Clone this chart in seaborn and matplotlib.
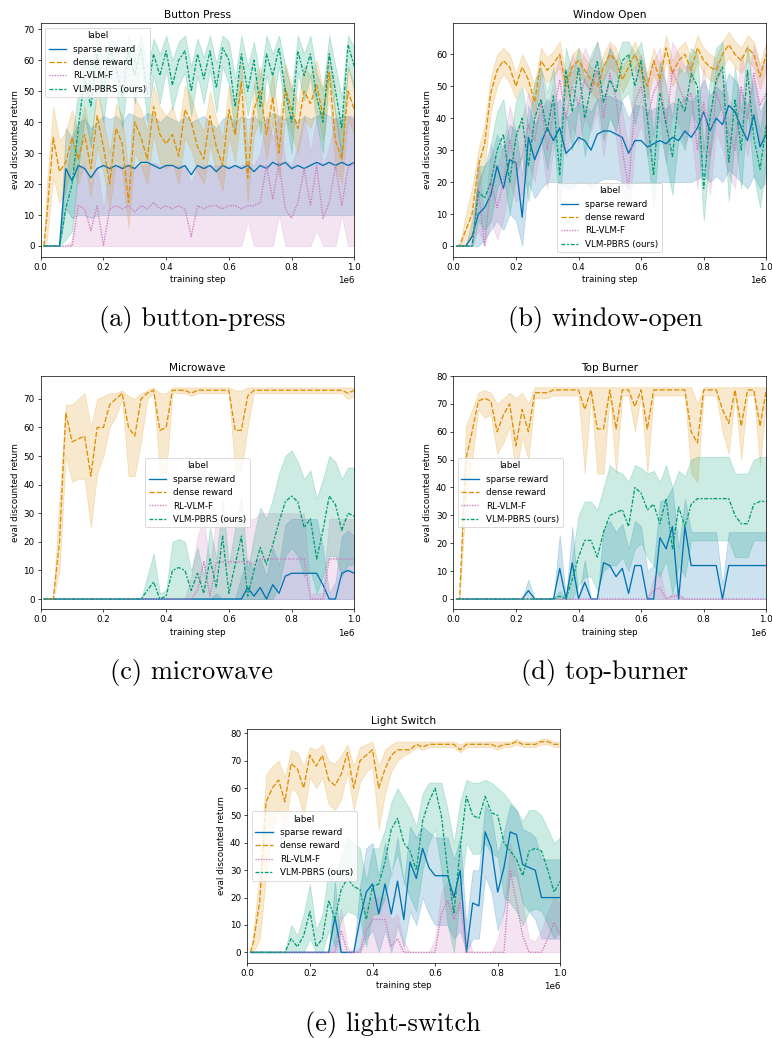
import matplotlib
matplotlib.use("Agg")
import matplotlib.pyplot as plt
import numpy as np
import pandas as pd
import seaborn as sns

# ---------------- data ----------------
# evaluation steps: 0.01e6, then every 0.02e6 up to 1e6
steps = [10000] + [20000 * k for k in range(1, 51)]
labels = ["sparse reward", "dense reward", "RL-VLM-F", "VLM-PBRS (ours)"]
palette = {"sparse reward": "#0173b2", "dense reward": "#de8f05",
           "RL-VLM-F": "#cc78bc", "VLM-PBRS (ours)": "#029e73"}

# ---- Button Press ----
bp_sparse = [0, 0,0,0,25,21,26,25,22,25,26, 25,26,25,26,25,27,27,26,25,26, 26,25,26,23,26,25,26,24,26,25, 26,25,26,24,26,25,27,26,27,25, 26,25,26,27,26,27,26,27,26,27]
bp_sparse_lo = [0, 0,0,0,12,9,10,10,9,10,10, 10,10,10,10,10,10,10,10,10,10, 10,10,10,10,10,10,10,10,10,10, 10,10,10,10,10,10,10,10,10,10, 10,10,10,10,10,10,10,10,10,10]
bp_sparse_hi = [0, 0,0,0,38,35,40,41,38,40,42, 41,42,40,43,42,41,43,42,40,42, 41,40,42,40,41,42,40,38,41,42, 40,42,41,42,40,41,43,42,41,42, 40,42,41,42,43,42,41,42,42,41]
bp_dense = [0, 10,35,24,27,35,28,36,25,42,32, 20,38,33,14,40,35,28,45,36,33, 36,29,44,40,32,28,42,32,26,44, 36,53,22,44,50,36,48,30,51,44, 38,50,46,52,42,56,34,28,50,44]
bp_dense_lo = [0, 2,22,14,18,26,20,27,16,32,24, 12,28,24,6,30,26,20,36,27,25, 27,20,35,31,24,20,33,24,18,35, 27,44,14,36,41,28,40,22,42,36, 30,41,38,44,34,48,26,20,41,36]
bp_dense_hi = [0, 20,45,34,37,44,37,45,34,50,41, 30,46,42,24,48,44,37,52,45,42, 45,38,52,48,41,37,50,41,35,52, 45,60,31,52,58,45,56,39,59,52, 46,58,55,60,51,63,43,37,58,52]
bp_rl = [0, 0,0,0,0,0,13,12,5,13,0, 12,13,12,13,11,13,12,14,12,13, 12,13,12,3,13,12,13,13,12,13, 13,12,13,13,14,26,15,27,12,9, 14,25,13,26,9,14,26,13,25,27]
bp_rl_lo = [0, 0,0,0,0,0,0,0,0,0,0, 0,0,0,0,0,0,0,0,0,0, 0,0,0,0,0,0,0,0,0,0, 0,0,8,0,0,0,0,10,0,0, 0,0,0,5,0,0,0,10,0,0]
bp_rl_hi = [0, 0,0,0,0,2,26,26,20,26,12, 26,26,26,26,25,26,26,27,26,26, 26,26,26,20,26,26,26,26,26,26, 26,26,27,26,30,42,35,42,28,26, 32,42,30,42,26,32,42,30,42,42]
bp_vlm = [0, 0,0,0,12,20,38,55,45,62,50, 64,58,48,63,55,64,49,62,55,63, 52,60,63,50,62,54,63,51,64,60, 45,62,50,60,45,62,55,64,50,40, 63,55,62,48,40,62,50,38,65,58]
bp_vlm_lo = [0, 0,0,0,2,5,25,42,32,52,40, 56,50,38,56,46,58,40,55,46,57, 44,52,56,42,55,46,57,43,58,52, 36,55,42,52,36,55,46,58,42,30, 56,47,55,40,30,55,42,28,58,50]
bp_vlm_hi = [0, 0,0,0,22,35,50,64,58,68,60, 68,65,56,68,62,68,57,67,62,68, 60,66,68,58,67,61,68,59,68,66, 54,68,58,66,54,68,62,68,58,50, 68,62,68,56,50,68,58,48,68,64]

# ---- Window Open ----
wo_sparse = [0, 0,0,3,10,12,16,25,18,27,26, 9,34,27,32,37,33,37,29,31,34, 33,30,35,36,36,35,34,29,33,33, 31,32,33,32,34,33,36,34,37,42, 36,40,38,44,42,37,33,41,31,35]
wo_sparse_lo = [0, 0,0,0,0,2,5,8,5,10,8, 0,20,15,18,20,20,20,18,18,20, 20,18,20,21,21,21,20,18,20,20, 20,20,20,20,20,20,20,20,21,22, 20,22,20,24,22,20,18,22,18,20]
wo_sparse_hi = [0, 0,0,8,20,25,28,35,30,38,36, 22,44,38,42,46,44,46,40,42,45, 44,42,46,47,47,46,45,40,44,44, 42,43,44,43,45,44,47,45,48,52, 47,50,48,54,52,48,44,52,42,46]
wo_dense = [0, 0,5,10,25,32,48,55,58,56,50, 56,52,45,58,55,57,60,50,56,58, 55,52,50,56,60,58,52,56,60,55, 50,58,52,62,54,58,60,55,62,58, 56,55,60,63,60,58,62,60,53,60]
wo_dense_lo = [0, 0,0,3,18,25,42,50,54,51,46, 51,47,40,54,51,53,56,46,51,54, 51,48,46,52,56,54,48,52,56,51, 46,54,48,58,50,54,56,51,58,54, 52,51,56,59,56,54,58,56,49,56]
wo_dense_hi = [0, 0,10,18,30,38,53,60,62,60,54, 60,56,50,62,59,61,64,54,60,62, 59,56,54,60,64,62,56,60,64,59, 54,62,56,66,58,62,64,59,66,62, 60,59,64,67,64,62,66,64,57,64]
wo_rl = [0, 0,0,0,18,0,20,12,20,33,25, 28,38,33,45,30,42,52,40,50,44, 52,48,55,40,54,46,30,18,45,50, 40,48,52,38,55,50,45,48,30,45, 28,48,42,35,30,50,40,54,44,48]
wo_rl_lo = [0, 0,0,0,5,0,8,2,8,20,14, 16,26,20,32,18,30,40,28,38,32, 40,36,42,28,42,34,18,8,32,38, 28,36,40,26,42,38,32,36,18,32, 16,36,30,22,18,38,28,42,32,36]
wo_rl_hi = [0, 0,0,0,28,8,32,24,32,44,36, 40,48,44,55,42,52,60,52,60,55, 62,58,64,52,63,57,42,30,56,60, 52,58,62,50,64,60,56,58,42,56, 40,58,54,46,42,60,52,63,56,58]
wo_vlm = [0, 0,0,0,17,15,20,30,35,20,34, 40,25,40,46,36,47,22,55,42,56, 40,50,58,45,52,48,58,60,50,58, 40,22,48,38,28,46,42,54,50,18, 40,52,56,26,46,30,55,34,24,38]
wo_vlm_lo = [0, 0,0,0,8,5,8,18,22,10,22, 28,14,28,34,24,35,12,42,30,44, 28,38,46,33,40,36,46,48,38,46, 28,12,36,26,16,34,30,42,38,8, 28,40,44,14,34,18,43,22,12,26]
wo_vlm_hi = [0, 0,0,0,25,25,32,42,46,32,45, 50,37,52,56,48,56,34,62,54,62, 52,60,64,56,62,58,64,64,60,64, 52,34,58,50,40,56,54,62,60,30, 52,62,64,38,56,42,63,46,36,50]

# ---- Microwave ----
mw_sparse = [0]*32 + [0,4,1,4,0,5,2,8,9, 9,9,9,9,5,0,0,9,10,9]
mw_sparse_lo = [0]*51
mw_sparse_hi = [0]*28 + [2,0,0,0,8,14,10,14,8,18,12,26,28, 28,28,28,28,18,2,6,22,24,22]
mw_dense = [0, 0,0,20,65,55,56,57,43,60,60, 68,70,72,60,57,70,72,73,59,60, 73,73,73,72,73,73,73,73,73,73, 59,59,71,73,73,73,73,73,73,73, 73,73,73,73,73,73,73,73,72,73]
mw_dense_lo = [0, 0,0,10,50,41,42,42,25,44,50, 60,64,70,43,43,55,70,72,44,44, 72,72,72,71,72,72,72,72,72,72, 45,45,60,72,72,72,72,72,72,72, 72,72,72,72,72,72,72,72,70,71]
mw_dense_hi = [0, 0,0,35,68,68,70,72,60,70,71, 72,72,73,71,70,72,73,74,72,72, 74,74,74,74,74,74,74,74,74,74, 73,73,74,74,74,74,74,74,74,74, 74,74,74,74,74,74,74,74,74,74]
mw_rl = [0]*25 + [3,13,1,13,13,13,13,13,13,12,14,14,14,14,14,14,14,14,0,0,0,14,14,14,14,14]
mw_rl_lo = [0]*51
mw_rl_hi = [0]*24 + [8,22,28,12,28,28,28,28,28,28,28,30,30,30,30,30,30,30,30,2,2,2,28,28,28,28,28]
mw_vlm = [0]*17 + [3,6,0,1, 10,11,10,3,9,2,14,4,22,2, 12,22,1,10,18,12,19,27,34,36, 34,25,28,14,24,36,33,24,30,29]
mw_vlm_lo = [0]*38 + [5,15,18,15,8,10,2,8,15,15,8,12,12]
mw_vlm_hi = [0]*17 + [8,16,2,3, 20,21,20,10,18,8,25,14,35,12, 25,36,10,22,32,28,35,44,50,52, 48,42,45,35,42,50,48,42,46,46]

# ---- Top Burner ----
tb_sparse = [0]*12 + [3,0,0,0,0, 11,0,13,0,6, 0,0,13,12,8, 11,2,12,12,0, 0,22,18,26,0, 26,12,12,12,12, 12,0,12,12,12,12,12,12,12]
tb_sparse_lo = [0]*51
tb_sparse_hi = [0]*12 + [7,0,0,0,0, 23,0,26,0,14, 0,0,25,28,24, 27,18,28,26,10, 12,35,36,40,18, 36,24,24,24,24, 24,5,24,24,24,24,24,24,24]
tb_dense = [0, 0,50,60,71,72,71,60,66,70,55, 68,60,74,74,74,75,75,75,75,75, 68,75,61,61,75,61,75,75,69,75, 61,75,75,75,75,75,75,60,56,75, 75,75,68,63,75,62,75,75,62,75]
tb_dense_lo = [0, 0,35,50,68,65,66,52,56,62,45, 58,50,72,72,72,73,73,73,73,73, 45,73,45,45,73,45,73,73,60,73, 45,73,73,73,73,73,73,45,42,73, 73,73,60,52,73,50,73,73,48,72]
tb_dense_hi = [0, 0,62,68,74,75,74,70,72,74,72, 74,70,76,76,76,76,76,76,76,76, 76,76,76,76,76,76,76,76,76,76, 76,76,76,76,76,76,76,76,70,76, 76,76,76,76,76,76,76,76,76,76]
tb_rl = [0]*32 + [3,4,0,1,1] + [0]*14
tb_rl_lo = [0]*51
tb_rl_hi = [0]*32 + [8,10,0,2,2] + [0]*14
tb_vlm = [0]*17 + [1,0,7,15, 21,21,15,24,30,31,32,26,40,38, 32,34,27,36,18,33,26,34,36,36, 36,36,36,36,30,27,27,34,35,35]
tb_vlm_lo = [0]*19 + [0,5, 8,8,3,10,12,12,15,10,18,20, 15,12,8,14,2,12,8,21,21,21, 21,21,21,21,15,15,15,21,21,21]
tb_vlm_hi = [0]*17 + [3,0,15,30, 35,35,32,40,48,46,45,42,48,47, 45,46,42,48,40,46,44,50,51,51, 51,51,51,51,45,45,45,50,51,51]

# ---- Light Switch ----
ls_sparse = [0]*14 + [13,0,0,0, 12,22,25,14,25,14,26,12,33,27, 38,31,28,28,28,20,30,0,18,17, 44,38,22,31,44,43,32,31,30,20, 20,20,20]
ls_sparse_lo = [0]*14 + [0,0,0,0, 0,5,8,0,8,0,10,2,15,10, 20,14,10,10,10,5,8,0,5,5, 28,22,8,15,28,28,18,15,12,5, 5,5,5]
ls_sparse_hi = [0]*14 + [26,0,0,0, 24,38,40,28,40,28,42,25,46,42, 46,44,42,42,42,34,42,10,30,30, 54,50,36,44,54,52,45,44,42,34, 34,34,34]
ls_dense = [0, 4,19,55,60,63,55,69,67,60,72, 68,72,63,61,65,73,60,70,72,74, 60,67,72,74,74,74,76,75,76,76, 76,76,76,74,76,76,76,76,76,75, 76,76,77,76,76,76,77,77,76,76]
ls_dense_lo = [0, 0,5,28,45,52,45,60,58,50,64, 60,64,54,52,56,66,52,62,66,68, 45,58,66,70,72,73,75,74,75,75, 75,75,75,73,75,75,75,75,75,74, 75,75,76,75,75,75,76,76,75,75]
ls_dense_hi = [0, 8,30,65,68,70,64,74,73,68,75, 74,76,70,69,72,76,68,75,76,77, 68,74,76,77,77,77,77,77,77,77, 77,77,77,76,77,77,77,77,77,77, 77,77,78,77,77,77,78,78,77,77]
ls_rl = [0]*15 + [8,0,0,0, 8,12,12,12,2,5, 0,0,0,0,0,0,14,19,12,18, 0,0,0,0,0,0,0, 30,18,6,0,0,0,5,11,6]
ls_rl_lo = [0]*51
ls_rl_hi = [0]*14 + [5, 16,2,0,2, 18,20,20,20,12,14, 4,0,0,0,0,5,22,26,22,26, 8,0,0,0,0,5,15, 40,30,18,5,4,8,15,20,18]
ls_vlm = [0]*7 + [5,2,6,15, 2,5,19,12,23,27,24,23,12,24, 25,33,45,49,40,37,30,48,55,60, 50,30,14,38,57,50,49,57,51,50, 40,37,34,28,37,38,37,30,22,26]
ls_vlm_lo = [0]*7 + [0,0,0,5, 0,0,8,2,12,15,14,12,2,14, 14,20,30,36,26,20,15,30,40,45, 30,10,0,20,40,36,36,40,36,35, 20,18,15,10,15,16,15,10,5,8]
ls_vlm_hi = [0]*7 + [10,6,14,25, 8,14,30,26,35,42,40,38,26,38, 38,45,55,60,56,52,46,58,62,62, 62,52,40,55,63,62,62,63,62,60, 58,55,52,48,52,52,50,45,40,42]

panels = [
    ("Button Press", [(bp_sparse_lo, bp_sparse, bp_sparse_hi), (bp_dense_lo, bp_dense, bp_dense_hi),
                      (bp_rl_lo, bp_rl, bp_rl_hi), (bp_vlm_lo, bp_vlm, bp_vlm_hi)],
     (-3.46, 71.9), "upper left", "(a) button-press"),
    ("Window Open", [(wo_sparse_lo, wo_sparse, wo_sparse_hi), (wo_dense_lo, wo_dense, wo_dense_hi),
                     (wo_rl_lo, wo_rl, wo_rl_hi), (wo_vlm_lo, wo_vlm, wo_vlm_hi)],
     (-3.35, 69.7), "lower center", "(b) window-open"),
    ("Microwave", [(mw_sparse_lo, mw_sparse, mw_sparse_hi), (mw_dense_lo, mw_dense, mw_dense_hi),
                   (mw_rl_lo, mw_rl, mw_rl_hi), (mw_vlm_lo, mw_vlm, mw_vlm_hi)],
     (-3.6, 78.0), "center", "(c) microwave"),
    ("Top Burner", [(tb_sparse_lo, tb_sparse, tb_sparse_hi), (tb_dense_lo, tb_dense, tb_dense_hi),
                    (tb_rl_lo, tb_rl, tb_rl_hi), (tb_vlm_lo, tb_vlm, tb_vlm_hi)],
     (-3.7, 80.0), "center left", "(d) top-burner"),
    ("Light Switch", [(ls_sparse_lo, ls_sparse, ls_sparse_hi), (ls_dense_lo, ls_dense, ls_dense_hi),
                      (ls_rl_lo, ls_rl, ls_rl_hi), (ls_vlm_lo, ls_vlm, ls_vlm_hi)],
     (-3.8, 81.5), "center left", "(e) light-switch"),
]

# ---------------- style ----------------
s = 0.632
plt.rcParams.update({
    "font.family": ["DejaVu Sans"],
    "font.size": 10 * s,
    "axes.linewidth": 0.8 * s,
    "lines.linewidth": 1.5 * s,
    "xtick.major.width": 0.8 * s, "ytick.major.width": 0.8 * s,
    "xtick.major.size": 3.5 * s, "ytick.major.size": 3.5 * s,
    "xtick.major.pad": 3.5 * s, "ytick.major.pad": 3.5 * s,
    "axes.labelpad": 4 * s, "axes.titlepad": 6 * s,
    "patch.linewidth": 1.0 * s,
})

fig = plt.figure(figsize=(7.72, 10.38), dpi=100)
W, H = 772.0, 1038.0
boxes = [(40.7, 23.3, 354.3, 256.7), (453.3, 23.3, 766.3, 256.7),
         (40.7, 376.0, 354.3, 609.3), (453.3, 376.0, 766.3, 609.3),
         (247.3, 729.3, 560.3, 962.7)]
captions_xy = [(192, 320), (605, 320), (192, 672), (605, 672), (393, 1024)]

for (title, series, ylim, loc, cap), (x0, y0, x1, y1), (cx, cy) in zip(panels, boxes, captions_xy):
    ax = fig.add_axes([x0 / W, 1 - y1 / H, (x1 - x0) / W, (y1 - y0) / H])
    rows = []
    for lab, (lo, mid, hi) in zip(labels, series):
        for arr in (lo, mid, hi):
            for st, v in zip(steps, arr):
                rows.append((st, v, lab))
    df = pd.DataFrame(rows, columns=["step", "value", "label"])
    sns.lineplot(data=df, x="step", y="value", hue="label", style="label",
                 hue_order=labels, style_order=labels, palette=palette,
                 estimator="median", errorbar=("pi", 100), ax=ax,
                 linewidth=1.5 * s)
    ax.set_xlim(0, 1e6)
    ax.set_ylim(*ylim)
    ax.set_title(title)
    ax.set_xlabel("training step")
    ax.set_ylabel("eval discounted return")
    sns.move_legend(ax, loc, title="label")
    fig.text(cx / W, 1 - cy / H, cap, ha="center", va="center",
             fontsize=19, family=["cmr10", "DejaVu Serif"])

fig.savefig("out.png", dpi=100)
